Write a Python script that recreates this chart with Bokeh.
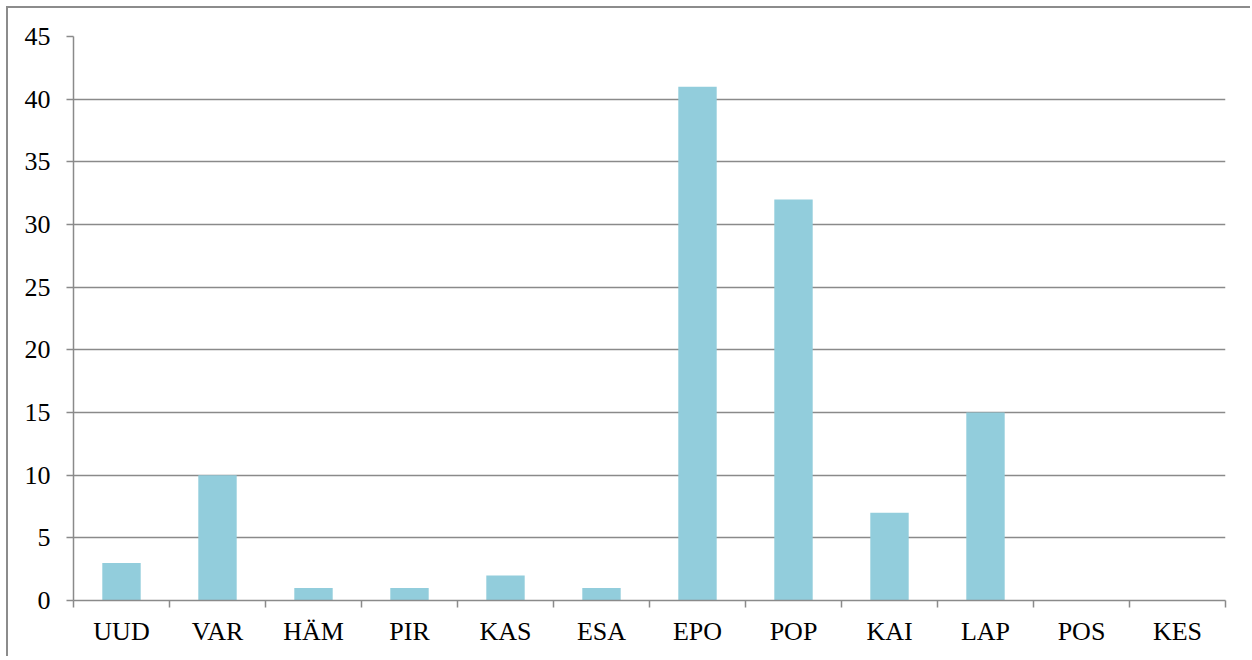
from bokeh.plotting import figure
from bokeh.models import FixedTicker, ColumnDataSource, Range1d
from bokeh.embed import file_html
from bokeh.resources import INLINE

categories = ["UUD", "VAR", "HÄM", "PIR", "KAS", "ESA", "EPO", "POP", "KAI", "LAP", "POS", "KES"]
values = [3, 10, 1, 1, 2, 1, 41, 32, 7, 15, 0, 0]
y_ticks = [0, 5, 10, 15, 20, 25, 30, 35, 40, 45]

n = len(categories)
centers = [i + 0.5 for i in range(n)]
source = ColumnDataSource(dict(x=centers, top=values, cat=categories))

FONT = "Liberation Serif"
GRAY = "#8a8a8a"

p = figure(width=1244, height=650, output_backend="svg", toolbar_location=None,
           x_range=Range1d(0, n), y_range=Range1d(0, 45),
           min_border_left=65, min_border_top=28, min_border_right=27, min_border_bottom=58)
p.margin = (6, 0, 0, 6)
p.styles = {"border-left": "2px solid #8c8c8c", "border-top": "2px solid #8c8c8c"}
p.outline_line_color = None
p.background_fill_color = "white"
p.border_fill_color = "white"

p.vbar(x="x", top="top", width=0.4, source=source, color="#92CDDC", line_color=None)

# y axis
p.yaxis.ticker = FixedTicker(ticks=y_ticks)
p.yaxis.axis_line_color = GRAY
p.yaxis.axis_line_width = 1.5
p.yaxis.major_tick_line_color = GRAY
p.yaxis.major_tick_line_width = 1.5
p.yaxis.major_tick_out = 7
p.yaxis.major_tick_in = 0
p.yaxis.minor_tick_line_color = None
p.yaxis.major_label_text_font = FONT
p.yaxis.major_label_text_font_size = "26px"
p.yaxis.major_label_text_color = "black"
p.yaxis.major_label_standoff = 16

# x axis: labels at centers, ticks at boundaries (as minor ticks)
p.xaxis.ticker = FixedTicker(ticks=centers, minor_ticks=list(range(n + 1)))
p.xaxis.major_label_overrides = {c: lab for c, lab in zip(centers, categories)}
p.xaxis.axis_line_color = GRAY
p.xaxis.axis_line_width = 1.5
p.xaxis.major_tick_line_color = None
p.xaxis.minor_tick_line_color = GRAY
p.xaxis.minor_tick_line_width = 1.5
p.xaxis.minor_tick_out = 7
p.xaxis.minor_tick_in = 0
p.xaxis.major_label_text_font = FONT
p.xaxis.major_label_text_font_size = "26px"
p.xaxis.major_label_text_color = "black"
p.xaxis.major_label_standoff = 9

p.xgrid.grid_line_color = None
p.ygrid.ticker = FixedTicker(ticks=y_ticks)
p.ygrid.grid_line_color = GRAY
p.ygrid.grid_line_width = 1.5

open("out.html", "w").write(file_html(p, INLINE))
